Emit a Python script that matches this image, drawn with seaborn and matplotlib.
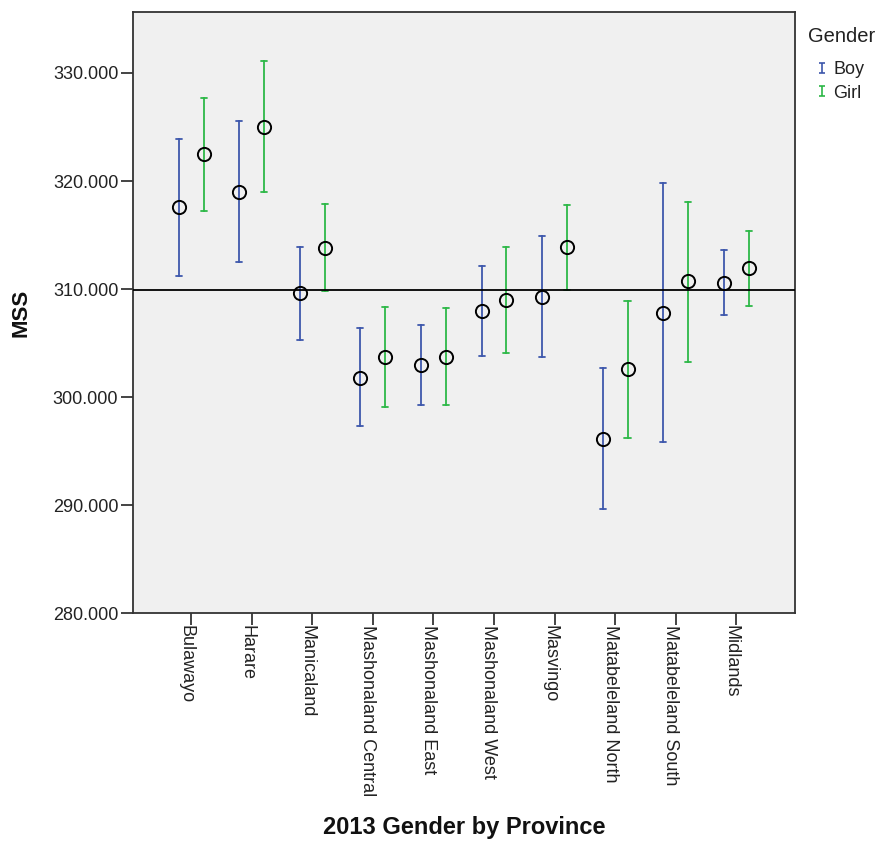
import numpy as np
import pandas as pd
import seaborn as sns
import matplotlib
matplotlib.use("Agg")
import matplotlib.pyplot as plt
from matplotlib.lines import Line2D
from matplotlib.path import Path
import matplotlib.transforms as mtransforms

# Mean MSS with 95% CI bounds per province and gender
provinces = ["Bulawayo", "Harare", "Manicaland", "Mashonaland Central",
             "Mashonaland East", "Mashonaland West", "Masvingo",
             "Matabeleland North", "Matabeleland South", "Midlands"]
genders = ["Boy", "Girl"]

boy_mean = [317.6, 319.0, 309.6, 301.8, 303.0, 308.0, 309.3, 296.1, 307.8, 310.6]
boy_low = [311.2, 312.5, 305.3, 297.3, 299.3, 303.8, 303.7, 289.6, 295.8, 307.6]
boy_high = [323.9, 325.6, 313.9, 306.4, 306.7, 312.1, 314.9, 302.7, 319.8, 313.6]

girl_mean = [322.5, 325.0, 313.8, 303.7, 303.7, 309.0, 313.9, 302.6, 310.7, 311.9]
girl_low = [317.2, 319.0, 309.8, 299.1, 299.3, 304.1, 309.9, 296.2, 303.2, 308.4]
girl_high = [327.7, 331.1, 317.9, 308.3, 308.2, 313.9, 317.8, 308.9, 318.1, 315.4]

grand_mean = 309.9
y_ticks = [280, 290, 300, 310, 320, 330]

palette = {"Boy": "#3E58AC", "Girl": "#2EB848"}

# Long table: each group holds (low, mean, high); the median is the mean and
# the full percentile range spans the interval.
rows = []
for g, lo_, mu_, hi_ in [("Boy", boy_low, boy_mean, boy_high),
                         ("Girl", girl_low, girl_mean, girl_high)]:
    for p, lo, mu, hi in zip(provinces, lo_, mu_, hi_):
        for v in (lo, mu, hi):
            rows.append({"Province": p, "Gender": g, "MSS": v})
df = pd.DataFrame(rows)

sns.set_theme(style="ticks")
plt.rcParams["font.family"] = ["Liberation Sans", "DejaVu Sans"]

W, H = 883, 843
fig = plt.figure(figsize=(W / 100, H / 100), dpi=100)
ax = fig.add_axes([0.1506, 0.2728, 0.9003 - 0.1506, 0.9858 - 0.2728])
ax.set_facecolor("#F0F0F0")

sns.pointplot(data=df, x="Province", y="MSS", hue="Gender",
              order=provinces, hue_order=genders, palette=palette,
              estimator="median", errorbar=("pi", 100),
              dodge=0.41, linestyle="none", markers="o",
              capsize=0.1, err_kws={"linewidth": 1.3},
              markersize=9.5, markeredgewidth=1.4,
              markerfacecolor="none", markeredgecolor="black",
              legend=False, ax=ax)

for ln in ax.lines:
    if ln.get_marker() == "o":
        ln.set_zorder(5)

ax.axhline(grand_mean, color="black", linewidth=1.3, zorder=4)

ax.set_xlim(-0.96, 9.97)
ax.set_ylim(280, 335.65)
ax.set_yticks(y_ticks)
ax.set_yticklabels([f"{v:.3f}" for v in y_ticks])

ax.tick_params(axis="both", direction="out", length=8.6, width=1.1,
               color="#111111", labelsize=13, labelcolor="#222222")
ax.tick_params(axis="y", pad=2)
ax.tick_params(axis="x", pad=0)
for lab in ax.get_xticklabels():
    lab.set_rotation(-90)
    lab.set_ha("center")
    lab.set_va("top")
    lab.set_transform(lab.get_transform() +
                      mtransforms.ScaledTranslation(-5 / 100, 0, fig.dpi_scale_trans))

for s in ax.spines.values():
    s.set_visible(True)
    s.set_color("#333333")
    s.set_linewidth(1.3)

ax.set_ylabel("MSS", fontsize=16, fontweight="bold", labelpad=15, color="#111111")
ax.set_xlabel("2013 Gender by Province", fontsize=17, fontweight="bold",
              labelpad=14, color="#111111")

# Legend title and entries with I-beam glyphs for the interval series
fig.text(808 / W, 1 - 36 / H, "Gender", fontsize=14.5, color="#222222",
         ha="left", va="center")
ibeam = Path([(-0.6, 1), (0.6, 1), (0, 1), (0, -1), (-0.6, -1), (0.6, -1)],
             [Path.MOVETO, Path.LINETO, Path.MOVETO, Path.LINETO, Path.MOVETO, Path.LINETO])
handles = [Line2D([], [], linestyle="none", marker=ibeam, markersize=7.5,
                  markeredgewidth=1.2, color=palette[g], markerfacecolor="none")
           for g in genders]
leg = fig.legend(handles, genders, loc="center left",
                 bbox_to_anchor=(815 / W, 1 - 81.5 / H), frameon=False,
                 fontsize=13, handlelength=0.8, handletextpad=0.2,
                 labelspacing=0.35, borderpad=0, borderaxespad=0)
for t in leg.get_texts():
    t.set_color("#222222")

fig.savefig("out.png", dpi=100)
